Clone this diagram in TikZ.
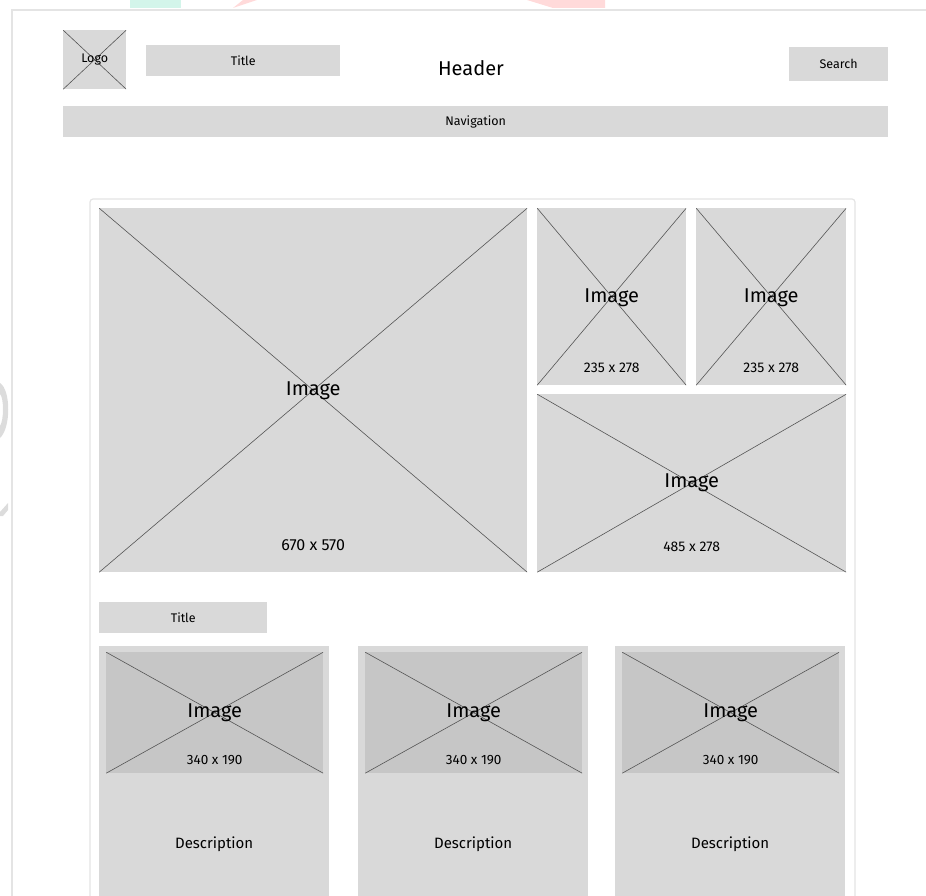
\documentclass[tikz,border=0pt]{standalone}
\usepackage{fontspec}
\setmainfont{Fira Sans}
\usetikzlibrary{calc}
\definecolor{boxgray}{HTML}{D9D9D9}
\definecolor{darkbox}{HTML}{C6C6C6}
\definecolor{framegray}{HTML}{E4E4E4}
\definecolor{linegray}{HTML}{555555}
\definecolor{wmgreen}{HTML}{D3F5EA}
\definecolor{wmred}{HTML}{FFDADA}
\definecolor{wmgray}{HTML}{DCDCDC}
\tikzset{
  box/.style={fill=boxgray, draw=none, inner sep=0pt, anchor=north west, font=\fontsize{12.5}{14}\selectfont},
  crossed/.style={path picture={\draw[linegray, line width=0.6pt]
      (path picture bounding box.north west) -- (path picture bounding box.south east)
      (path picture bounding box.south west) -- (path picture bounding box.north east);}},
  imgtxt/.style={font=\fontsize{20}{22}\selectfont, inner sep=0pt},
  sizetxt/.style={font=\fontsize{14}{16}\selectfont, inner sep=0pt},
}
\begin{document}
\begin{tikzpicture}[x=1pt,y=-1pt]
\useasboundingbox (0,0) rectangle (926,896);
% faint watermark fragments
\fill[wmgreen] (130,0) rectangle (181,8);
\fill[wmred] (233,8) -- (243,0) -- (257,0) -- cycle;
\fill[wmred] (527,0) -- (553,8) -- (605,8) -- (605,0) -- cycle;
\fill[wmgray] (0,383) .. controls (11,390) and (11,428) .. (0,438) -- (0,426) .. controls (4,420) and (4,398) .. (0,394) -- cycle;
\fill[wmgray] (0,512) -- (8,503) -- (8,510) -- (3,516) -- (0,516) -- cycle;
% page frame
\draw[framegray, line width=1.5pt] (12,896) -- (12,10) -- (926,10);
% header
\node[box, crossed, minimum width=63pt, minimum height=59pt] (logo) at (63,30) {};
\node[font=\fontsize{12.5}{14}\selectfont, inner sep=0pt] (logotxt) at (logo.center) {Logo};
\node[box, minimum width=194pt, minimum height=31pt] (title) at (146,45) {Title};
\node[font=\fontsize{20}{22}\selectfont, inner sep=0pt] (header) at (471,68) {Header};
\node[box, minimum width=99pt, minimum height=34pt] (search) at (789,47) {Search};
\node[box, minimum width=825pt, minimum height=31pt] (nav) at (63,106) {Navigation};
% content panel
\filldraw[fill=white, draw=framegray, line width=1.2pt, rounded corners=3pt] (90,905) -- (90,199) -- (855,199) -- (855,905);
% big image
\node[box, crossed, minimum width=428pt, minimum height=364pt] (big) at (99,208) {};
\node[imgtxt] (bigtxt) at ($(big.center)+(0,1)$) {Image};
\node[sizetxt, font=\fontsize{16}{18}\selectfont] (bigsize) at ($(big.south)+(0,-27)$) {670 x 570};
% small images
\node[box, crossed, minimum width=149pt, minimum height=177pt] (s1) at (537,208) {};
\node[imgtxt] (s1txt) at ($(s1.center)+(0,1.5)$) {Image};
\node[sizetxt] (s1size) at ($(s1.south)+(0,-18)$) {235 x 278};
\node[box, crossed, minimum width=150pt, minimum height=177pt] (s2) at (696,208) {};
\node[imgtxt] (s2txt) at ($(s2.center)+(0,1.5)$) {Image};
\node[sizetxt] (s2size) at ($(s2.south)+(0,-18)$) {235 x 278};
% wide image
\node[box, crossed, minimum width=309pt, minimum height=178pt] (wide) at (537,394) {};
\node[imgtxt] (widetxt) at ($(wide.center)+(0,-0.5)$) {Image};
\node[sizetxt] (widesize) at ($(wide.south)+(0,-26)$) {485 x 278};
% section title
\node[box, minimum width=168pt, minimum height=31pt] (title2) at (99,602) {Title};
% cards
\foreach \i/\x in {1/99, 2/358, 3/615} {
  \node[box, minimum width=230pt, minimum height=260pt] (card\i) at (\x,646) {};
  \node[box, crossed, fill=darkbox, minimum width=217pt, minimum height=121pt] (cimg\i) at (\x+7,652) {};
  \node[imgtxt] (cimgtxt\i) at ($(cimg\i.center)+(0,0.5)$) {Image};
  \node[sizetxt, font=\fontsize{13.5}{15}\selectfont] (cimgsize\i) at ($(cimg\i.south)+(0,-13)$) {340 x 190};
  \node[font=\fontsize{15}{17}\selectfont, inner sep=0pt] (cdesc\i) at ($(card\i.north)+(0,198)$) {Description};
}
\end{tikzpicture}
\end{document}
